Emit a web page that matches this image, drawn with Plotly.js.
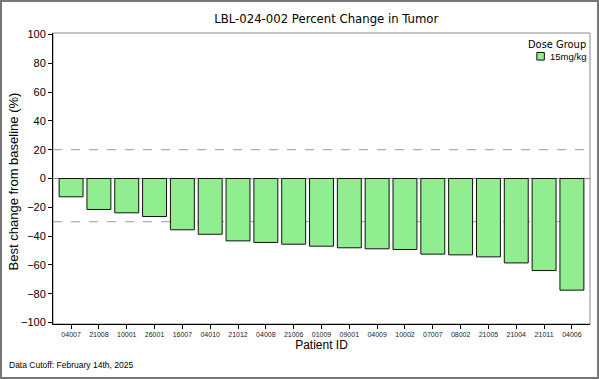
<!DOCTYPE html>
<html>
<head>
<meta charset="utf-8">
<script src="https://cdn.plot.ly/plotly-3.0.1.min.js"></script>
<style>
html,body{margin:0;padding:0;background:#fff;}
#chart{width:599px;height:379px;box-sizing:border-box;border:2px solid #777;}
</style>
</head>
<body>
<div id="chart"></div>
<script>
const patients = ["04007","21008","10001","26001","16007","04010","21012","04008","21006","01009","09001","04009","10002","07007","08002","21005","21004","21011","04006"];
const bestChange = [-12.7,-21.5,-23.8,-26.4,-35.6,-38.7,-43.3,-44.4,-45.6,-47.0,-48.1,-48.8,-49.3,-52.5,-53.0,-54.4,-58.6,-63.9,-77.5];
const doseGroup = "15mg/kg";
const legendTitle = "Dose Group";
const yTitle = "Best change from baseline (%)";
const refLines = [20, -30];
const yTicks = [100,80,60,40,20,0,-20,-40,-60,-80,-100];
const barColor = "#90EE90";

const trace = {
  type: "bar",
  x: patients,
  y: bestChange,
  name: doseGroup,
  marker: {color: barColor, line: {color: "#111", width: 1}},
  showlegend: false
};

const shapes = refLines.map(v => ({
  type: "line", xref: "paper", x0: 0, x1: 1, yref: "y", y0: v, y1: v,
  line: {color: "#999", width: 1, dash: "dash"}, layer: "below"
}));
shapes.push({type:"rect", xref:"paper", yref:"paper", x0:0, x1:1, y0:0, y1:1, line:{color:"#888", width:1}, layer:"below"});
// legend swatch
shapes.push({type:"rect", xref:"paper", yref:"paper", x0:0.901, x1:0.915, y0:0.907, y1:0.933,
  fillcolor: barColor, line:{color:"#111", width:1}});

const layout = {
  width: 595, height: 375,
  margin: {l: 51, r: 7, t: 31, b: 53},
  paper_bgcolor: "#fff", plot_bgcolor: "#fff",
  font: {family: "Liberation Sans, Arial, sans-serif", color: "#000"},
  title: {text: "LBL-024-002 Percent Change in Tumor", x: 0.545, xanchor: "center", y: 0.955, yanchor: "middle",
          font: {family: "DejaVu Sans Condensed, DejaVu Sans, sans-serif", size: 13, color: "#000"}},
  bargap: 0.14,
  xaxis: {
    type: "category", range: [-0.65, 18.65],
    showline: true, linecolor: "#000", linewidth: 1,
    ticks: "outside", ticklen: 4, tickcolor: "#000",
    tickfont: {size: 7, family: "Liberation Sans Narrow, Liberation Sans, sans-serif", color: "#222"},
    title: {text: "Patient ID", font: {size: 12, family: "Liberation Sans Narrow, Liberation Sans, sans-serif"}, standoff: 3},
    showgrid: false, zeroline: false
  },
  yaxis: {
    range: [-101, 101], tickvals: yTicks,
    showline: true, linecolor: "#000", linewidth: 1,
    ticks: "outside", ticklen: 4, tickcolor: "#000",
    tickfont: {size: 11, family: "Liberation Sans Narrow, Liberation Sans, sans-serif"},
    showgrid: false, zeroline: true, zerolinecolor: "#888", zerolinewidth: 1
  },
  shapes: shapes,
  annotations: [
    {text: yTitle, xref: "paper", yref: "paper", x: -0.0745, xanchor: "center", y: 0.49, yanchor: "middle",
     textangle: -90, showarrow: false, font: {size: 13}},
    {text: "Data Cutoff: February 14th, 2025", xref: "paper", yref: "paper",
     x: -0.085, xanchor: "left", y: -0.141, yanchor: "middle", showarrow: false,
     font: {size: 8.5, family: "Liberation Sans Narrow, Liberation Sans, sans-serif"}},
    {text: legendTitle, xref: "paper", yref: "paper", x: 0.996, xanchor: "right", y: 0.962, yanchor: "middle",
     showarrow: false, font: {size: 11, family: "DejaVu Sans Condensed, DejaVu Sans, sans-serif"}},
    {text: doseGroup, xref: "paper", yref: "paper", x: 0.922, xanchor: "left", y: 0.919, yanchor: "middle",
     showarrow: false, font: {size: 9.5, family: "Liberation Sans Narrow, Liberation Sans, sans-serif"}}
  ]
};

Plotly.newPlot("chart", [trace], layout, {displayModeBar: false, staticPlot: true});
</script>
</body>
</html>
